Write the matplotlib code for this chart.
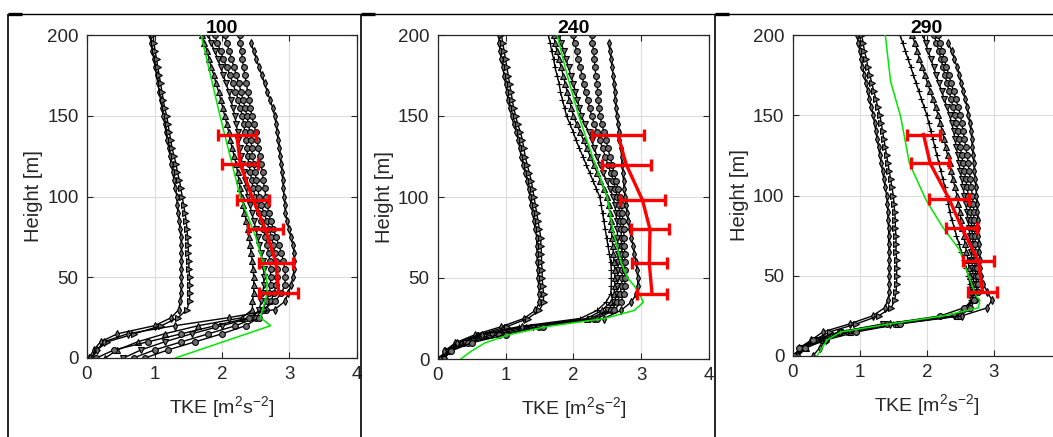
import matplotlib
matplotlib.use("Agg")
import matplotlib.pyplot as plt
from matplotlib.lines import Line2D

plt.rcParams['font.family'] = ['Liberation Sans', 'DejaVu Sans']
plt.rcParams['mathtext.fontset'] = 'custom'
plt.rcParams['mathtext.rm'] = 'Liberation Sans'
plt.rcParams['mathtext.it'] = 'Liberation Sans:italic'

# Vertical grid of the simulated profiles [m]
HEIGHTS = list(range(0, 205, 5))

# Lidar heights [m]
LIDAR_H = [138, 120, 98, 80, 59, 40]

TITLES = ["100", "240", "290"]
X_TICKS = [0, 1, 2, 3, 4]
Y_TICKS = [0, 50, 100, 150, 200]

# ---------------- case 100 ----------------
c100_l1 = [0.03, 0.10, 0.20, 0.45, 1.00, 1.25, 1.36, 1.38, 1.39, 1.40,
           1.40, 1.40, 1.40, 1.40, 1.40, 1.39, 1.38, 1.37, 1.35, 1.34,
           1.33, 1.31, 1.29, 1.27, 1.25, 1.23, 1.21, 1.19, 1.17, 1.15,
           1.13, 1.11, 1.09, 1.07, 1.05, 1.03, 1.01, 0.99, 0.97, 0.95, 0.94]
c100_l2 = [0.08, 0.15, 0.30, 0.70, 1.10, 1.35, 1.48, 1.52, 1.52, 1.52,
           1.52, 1.51, 1.51, 1.50, 1.50, 1.49, 1.48, 1.47, 1.45, 1.43,
           1.41, 1.39, 1.37, 1.34, 1.32, 1.29, 1.26, 1.24, 1.22, 1.20,
           1.18, 1.15, 1.13, 1.11, 1.09, 1.07, 1.05, 1.03, 1.01, 0.99, 0.98]
c100_a = [0.27, 0.45, 0.75, 1.15, 1.65, 2.30, 2.45, 2.45, 2.47, 2.47,
          2.47, 2.46, 2.45, 2.43, 2.42, 2.40, 2.38, 2.36, 2.33, 2.31,
          2.29, 2.27, 2.25, 2.23, 2.21, 2.18, 2.15, 2.12, 2.10, 2.07,
          2.04, 2.01, 1.98, 1.95, 1.91, 1.88, 1.84, 1.81, 1.78, 1.74, 1.71]
c100_b = [0.54, 0.80, 1.15, 1.55, 2.00, 2.45, 2.55, 2.58, 2.60, 2.62,
          2.62, 2.62, 2.60, 2.58, 2.55, 2.53, 2.50, 2.47, 2.44, 2.41,
          2.38, 2.36, 2.34, 2.32, 2.30, 2.28, 2.26, 2.24, 2.23, 2.21,
          2.19, 2.16, 2.13, 2.10, 2.06, 2.02, 1.98, 1.94, 1.89, 1.84, 1.80]
c100_c = [0.69, 1.00, 1.40, 1.80, 2.20, 2.50, 2.60, 2.66, 2.70, 2.72,
          2.72, 2.72, 2.71, 2.69, 2.67, 2.64, 2.61, 2.58, 2.55, 2.52,
          2.49, 2.46, 2.44, 2.42, 2.40, 2.38, 2.37, 2.36, 2.34, 2.32,
          2.30, 2.27, 2.24, 2.20, 2.16, 2.12, 2.07, 2.02, 1.98, 1.93, 1.89]
c100_d = [0.86, 1.20, 1.60, 2.00, 2.35, 2.55, 2.65, 2.72, 2.77, 2.80,
          2.81, 2.81, 2.80, 2.78, 2.76, 2.73, 2.70, 2.66, 2.62, 2.58,
          2.55, 2.53, 2.51, 2.49, 2.47, 2.45, 2.44, 2.43, 2.41, 2.39,
          2.37, 2.34, 2.31, 2.28, 2.25, 2.21, 2.18, 2.14, 2.11, 2.07, 2.04]
c100_e = [0.14, 0.40, 0.90, 1.40, 1.90, 2.40, 2.60, 2.78, 2.88, 2.93,
          2.94, 2.93, 2.91, 2.88, 2.84, 2.80, 2.76, 2.72, 2.69, 2.67,
          2.65, 2.63, 2.61, 2.60, 2.58, 2.56, 2.54, 2.52, 2.50, 2.47,
          2.44, 2.42, 2.40, 2.38, 2.36, 2.34, 2.32, 2.30, 2.29, 2.27, 2.26]
c100_f = [0.05, 0.15, 0.25, 0.60, 1.30, 2.10, 2.78, 2.93, 2.98, 3.02,
          3.05, 3.07, 3.07, 3.07, 3.05, 3.02, 2.99, 2.96, 2.94, 2.93,
          2.92, 2.91, 2.90, 2.89, 2.88, 2.86, 2.85, 2.83, 2.82, 2.80,
          2.78, 2.75, 2.71, 2.67, 2.63, 2.59, 2.55, 2.51, 2.47, 2.43]
c100_green_h = [0, 20, 25, 30, 40, 50, 60, 75, 100, 125, 150, 175, 200]
c100_green_v = [1.31, 2.72, 2.57, 2.60, 2.67, 2.66, 2.60, 2.50, 2.27, 2.12, 1.97, 1.83, 1.69]
c100_lidar = [2.22, 2.27, 2.46, 2.64, 2.80, 2.84]
c100_lidar_err = [0.28, 0.27, 0.24, 0.26, 0.25, 0.29]

# ---------------- case 240 ----------------
c240_l1 = [0.07, 0.11, 0.26, 0.55, 0.94, 1.27, 1.44, 1.50, 1.50, 1.49,
           1.48, 1.48, 1.47, 1.47, 1.46, 1.46, 1.44, 1.42, 1.40, 1.38,
           1.36, 1.34, 1.32, 1.29, 1.26, 1.23, 1.21, 1.19, 1.16, 1.12,
           1.09, 1.06, 1.04, 1.02, 1.00, 0.98, 0.96, 0.94, 0.92, 0.91, 0.90]
c240_l2 = [0.10, 0.16, 0.32, 0.62, 1.02, 1.33, 1.50, 1.56, 1.56, 1.55,
           1.54, 1.54, 1.53, 1.53, 1.52, 1.52, 1.50, 1.48, 1.46, 1.44,
           1.42, 1.40, 1.38, 1.35, 1.32, 1.29, 1.27, 1.25, 1.22, 1.18,
           1.15, 1.12, 1.10, 1.08, 1.06, 1.04, 1.02, 1.00, 0.98, 0.96, 0.94]
c240_a = [0.05, 0.12, 0.30, 0.60, 1.20, 2.10, 2.35, 2.48, 2.55, 2.56,
          2.56, 2.56, 2.55, 2.53, 2.51, 2.49, 2.47, 2.45, 2.43, 2.41,
          2.39, 2.34, 2.29, 2.24, 2.19, 2.14, 2.09, 2.04, 2.00, 1.95,
          1.90, 1.87, 1.84, 1.81, 1.79, 1.76, 1.73, 1.71, 1.68, 1.66, 1.63]
c240_b = [0.08, 0.15, 0.35, 0.70, 1.30, 2.20, 2.42, 2.55, 2.60, 2.61,
          2.61, 2.61, 2.60, 2.59, 2.58, 2.57, 2.56, 2.55, 2.54, 2.52,
          2.50, 2.45, 2.40, 2.35, 2.30, 2.25, 2.20, 2.15, 2.10, 2.05,
          2.00, 1.97, 1.94, 1.91, 1.88, 1.85, 1.82, 1.79, 1.76, 1.73, 1.71]
c240_c = [0.04, 0.13, 0.40, 0.80, 1.40, 2.25, 2.50, 2.60, 2.64, 2.65,
          2.65, 2.66, 2.66, 2.66, 2.66, 2.65, 2.65, 2.64, 2.63, 2.61,
          2.59, 2.54, 2.49, 2.44, 2.39, 2.35, 2.31, 2.27, 2.23, 2.17,
          2.12, 2.09, 2.06, 2.03, 2.00, 1.96, 1.93, 1.89, 1.86, 1.82, 1.79]
c240_d = [0.06, 0.18, 0.45, 0.90, 1.50, 2.30, 2.55, 2.65, 2.69, 2.71,
          2.72, 2.72, 2.72, 2.72, 2.71, 2.71, 2.70, 2.69, 2.68, 2.67,
          2.65, 2.62, 2.59, 2.55, 2.51, 2.47, 2.43, 2.39, 2.35, 2.31,
          2.27, 2.24, 2.21, 2.18, 2.15, 2.13, 2.10, 2.07, 2.05, 2.02, 2.00]
c240_e = [0.09, 0.20, 0.50, 1.00, 1.55, 2.35, 2.60, 2.70, 2.74, 2.76,
          2.76, 2.76, 2.76, 2.76, 2.75, 2.75, 2.74, 2.73, 2.72, 2.71,
          2.69, 2.66, 2.63, 2.60, 2.57, 2.54, 2.51, 2.48, 2.45, 2.42,
          2.39, 2.38, 2.37, 2.36, 2.35, 2.33, 2.32, 2.31, 2.30, 2.28, 2.27]
c240_f = [0.03, 0.10, 0.28, 0.65, 1.25, 2.45, 2.70, 2.85, 2.93, 2.95,
          2.95, 2.94, 2.92, 2.90, 2.88, 2.85, 2.83, 2.81, 2.79, 2.78,
          2.76, 2.75, 2.74, 2.73, 2.72, 2.71, 2.70, 2.68, 2.67, 2.66,
          2.64, 2.63, 2.62, 2.61, 2.60, 2.59, 2.57, 2.56, 2.54, 2.52]
c240_green_h = [0, 5, 10, 15, 20, 25, 30, 35, 40, 45, 50, 60, 80, 100, 125, 150, 175, 200]
c240_green_v = [0.34, 0.50, 0.70, 1.05, 1.60, 2.46, 2.90, 3.03, 2.98, 2.90,
                2.80, 2.70, 2.58, 2.50, 2.28, 2.08, 1.91, 1.76]
c240_lidar = [2.66, 2.78, 3.02, 3.13, 3.12, 3.16]
c240_lidar_err = [0.38, 0.36, 0.33, 0.28, 0.26, 0.22]

# ---------------- case 290 ----------------
c290_l1 = [0.03, 0.10, 0.28, 0.45, 0.85, 1.19, 1.37, 1.42, 1.44, 1.44,
           1.44, 1.44, 1.44, 1.44, 1.43, 1.43, 1.43, 1.42, 1.42, 1.41,
           1.40, 1.38, 1.36, 1.34, 1.32, 1.30, 1.28, 1.26, 1.24, 1.22,
           1.20, 1.17, 1.14, 1.12, 1.09, 1.07, 1.04, 1.02, 1.00, 0.98, 0.96]
c290_l2 = [0.06, 0.15, 0.32, 0.55, 0.95, 1.28, 1.47, 1.52, 1.54, 1.55,
           1.55, 1.55, 1.55, 1.54, 1.54, 1.54, 1.53, 1.53, 1.52, 1.51,
           1.50, 1.48, 1.46, 1.44, 1.42, 1.40, 1.38, 1.36, 1.34, 1.32,
           1.30, 1.27, 1.24, 1.21, 1.18, 1.15, 1.12, 1.10, 1.07, 1.05, 1.03]
c290_a = [0.05, 0.15, 0.40, 0.80, 1.50, 2.40, 2.58, 2.66, 2.66, 2.64,
          2.62, 2.58, 2.55, 2.51, 2.48, 2.44, 2.41, 2.37, 2.34, 2.32,
          2.30, 2.27, 2.24, 2.21, 2.18, 2.15, 2.12, 2.09, 2.06, 2.03,
          2.00, 1.96, 1.92, 1.88, 1.84, 1.80, 1.76, 1.72, 1.68, 1.64, 1.60]
c290_b = [0.08, 0.20, 0.45, 0.85, 1.55, 2.45, 2.62, 2.68, 2.68, 2.67,
          2.65, 2.63, 2.61, 2.59, 2.57, 2.55, 2.53, 2.51, 2.49, 2.47,
          2.45, 2.42, 2.39, 2.36, 2.34, 2.31, 2.28, 2.26, 2.23, 2.20,
          2.17, 2.13, 2.09, 2.05, 2.01, 1.97, 1.93, 1.89, 1.86, 1.82, 1.78]
c290_c = [0.04, 0.12, 0.35, 0.70, 1.35, 2.40, 2.60, 2.68, 2.70, 2.70,
          2.69, 2.68, 2.67, 2.66, 2.65, 2.64, 2.63, 2.61, 2.60, 2.58,
          2.56, 2.54, 2.52, 2.50, 2.48, 2.46, 2.44, 2.42, 2.40, 2.37,
          2.34, 2.30, 2.26, 2.22, 2.18, 2.14, 2.10, 2.06, 2.02, 1.98, 1.95]
c290_d = [0.06, 0.18, 0.50, 0.95, 1.60, 2.50, 2.65, 2.72, 2.74, 2.74,
          2.73, 2.72, 2.71, 2.70, 2.69, 2.68, 2.67, 2.66, 2.65, 2.64,
          2.62, 2.60, 2.58, 2.56, 2.54, 2.52, 2.50, 2.48, 2.46, 2.44,
          2.42, 2.39, 2.36, 2.33, 2.30, 2.27, 2.24, 2.21, 2.18, 2.14, 2.11]
c290_e = [0.02, 0.10, 0.30, 0.70, 1.40, 2.20, 2.55, 2.70, 2.76, 2.77,
          2.76, 2.75, 2.74, 2.73, 2.72, 2.72, 2.71, 2.70, 2.70, 2.69,
          2.68, 2.66, 2.65, 2.63, 2.62, 2.60, 2.58, 2.56, 2.54, 2.52,
          2.50, 2.47, 2.43, 2.40, 2.36, 2.33, 2.29, 2.26, 2.23, 2.20, 2.17]
c290_f = [0.30, 0.40, 0.50, 0.70, 1.45, 2.52, 2.90, 2.97, 2.90, 2.84,
          2.80, 2.79, 2.79, 2.78, 2.78, 2.77, 2.77, 2.76, 2.75, 2.75,
          2.74, 2.73, 2.72, 2.71, 2.70, 2.69, 2.68, 2.67, 2.66, 2.64,
          2.62, 2.60, 2.57, 2.54, 2.51, 2.48, 2.45, 2.41, 2.37, 2.32]
c290_green_h = [0, 5, 10, 15, 20, 25, 30, 35, 37, 50, 66, 80, 97, 120, 149, 171, 200]
c290_green_v = [0.36, 0.44, 0.51, 0.72, 1.45, 2.25, 2.77, 2.79, 2.74, 2.62,
                2.49, 2.24, 1.99, 1.74, 1.61, 1.46, 1.38]
c290_lidar = [1.95, 2.05, 2.33, 2.52, 2.77, 2.83]
c290_lidar_err = [0.25, 0.28, 0.30, 0.23, 0.23, 0.21]

panels = [
    dict(title=TITLES[0],
         lines=[(c100_l1, 'd'), (c100_l2, '>'), (c100_a, '^'), (c100_b, 'v'),
                (c100_c, 'o'), (c100_d, 'o'), (c100_e, 'o'), (c100_f, 'd')],
         gh=c100_green_h, gv=c100_green_v, lv=c100_lidar, le=c100_lidar_err,
         rect=[87, 35, 357, 358], last_xlabel=True),
    dict(title=TITLES[1],
         lines=[(c240_l1, 'd'), (c240_l2, '>'), (c240_a, '+'), (c240_b, '^'),
                (c240_c, 'v'), (c240_d, 'o'), (c240_e, 'o'), (c240_f, 'd')],
         gh=c240_green_h, gv=c240_green_v, lv=c240_lidar, le=c240_lidar_err,
         rect=[437.7, 35, 709, 359], last_xlabel=True),
    dict(title=TITLES[2],
         lines=[(c290_l1, 'd'), (c290_l2, '>'), (c290_a, '+'), (c290_b, '^'),
                (c290_c, 'v'), (c290_d, 'o'), (c290_e, 'o'), (c290_f, 'd')],
         gh=c290_green_h, gv=c290_green_v, lv=c290_lidar, le=c290_lidar_err,
         rect=[792.7, 35, 1061, 356], last_xlabel=False),
]

W, H = 1053, 437
fig = plt.figure(figsize=(W / 100, H / 100), dpi=100)

for p in panels:
    x0, y0, x1, y1 = p['rect']
    ax = fig.add_axes([x0 / W, 1 - y1 / H, (x1 - x0) / W, (y1 - y0) / H])
    for vals, mk in p['lines']:
        ax.plot(vals, HEIGHTS[:len(vals)], color='k', lw=1.0, marker=mk,
                ms=4.2, mfc='#6e6e6e', mec='k', mew=0.8, zorder=2)
    ax.plot(p['gv'], p['gh'], color='#00e800', lw=1.1, zorder=3)
    ax.errorbar(p['lv'], LIDAR_H, xerr=p['le'], color='#ff0000', lw=2.4,
                elinewidth=2.4, capsize=4, capthick=2.4, zorder=4)
    ax.set_xlim(0, 4)
    ax.set_ylim(0, 200)
    ax.set_xticks(X_TICKS)
    # the right end of the last panel runs past the frame edge
    ax.set_xticklabels([str(t) if (t < 4 or p['last_xlabel']) else ''
                        for t in X_TICKS])
    ax.set_yticks(Y_TICKS)
    ax.grid(True, color='#dcdcdc', lw=0.8)
    ax.set_axisbelow(True)
    for s in ax.spines.values():
        s.set_color('#262626')
        s.set_linewidth(0.9)
    ax.tick_params(direction='in', top=True, right=True, length=4,
                   width=0.8, color='#262626', labelsize=13.5,
                   labelcolor='#262626')
    ax.tick_params(axis='x', pad=5.5)
    ax.tick_params(axis='y', pad=6)
    ax.set_title(p['title'], fontsize=14, fontweight='bold', pad=1.5)
    ax.set_xlabel('TKE [m$^2$s$^{-2}$]', fontsize=14, labelpad=8, color='#262626')
    ax.set_ylabel('Height [m]', fontsize=14.5, labelpad=3, color='#262626')

# table-cell frame around the three panels
def seg(xa, ya, xb, yb, lw=1.0):
    fig.add_artist(Line2D([xa / W, xb / W], [1 - ya / H, 1 - yb / H],
                          color='k', lw=lw, transform=fig.transFigure,
                          solid_capstyle='butt'))

seg(8, 14, W, 14, 1.0)
for xv in (8, 361, 715):
    seg(xv, 14, xv, H, 1.2)
    seg(xv, 14, xv + 14, 14, 2.4)

fig.savefig('out.png', dpi=100)
